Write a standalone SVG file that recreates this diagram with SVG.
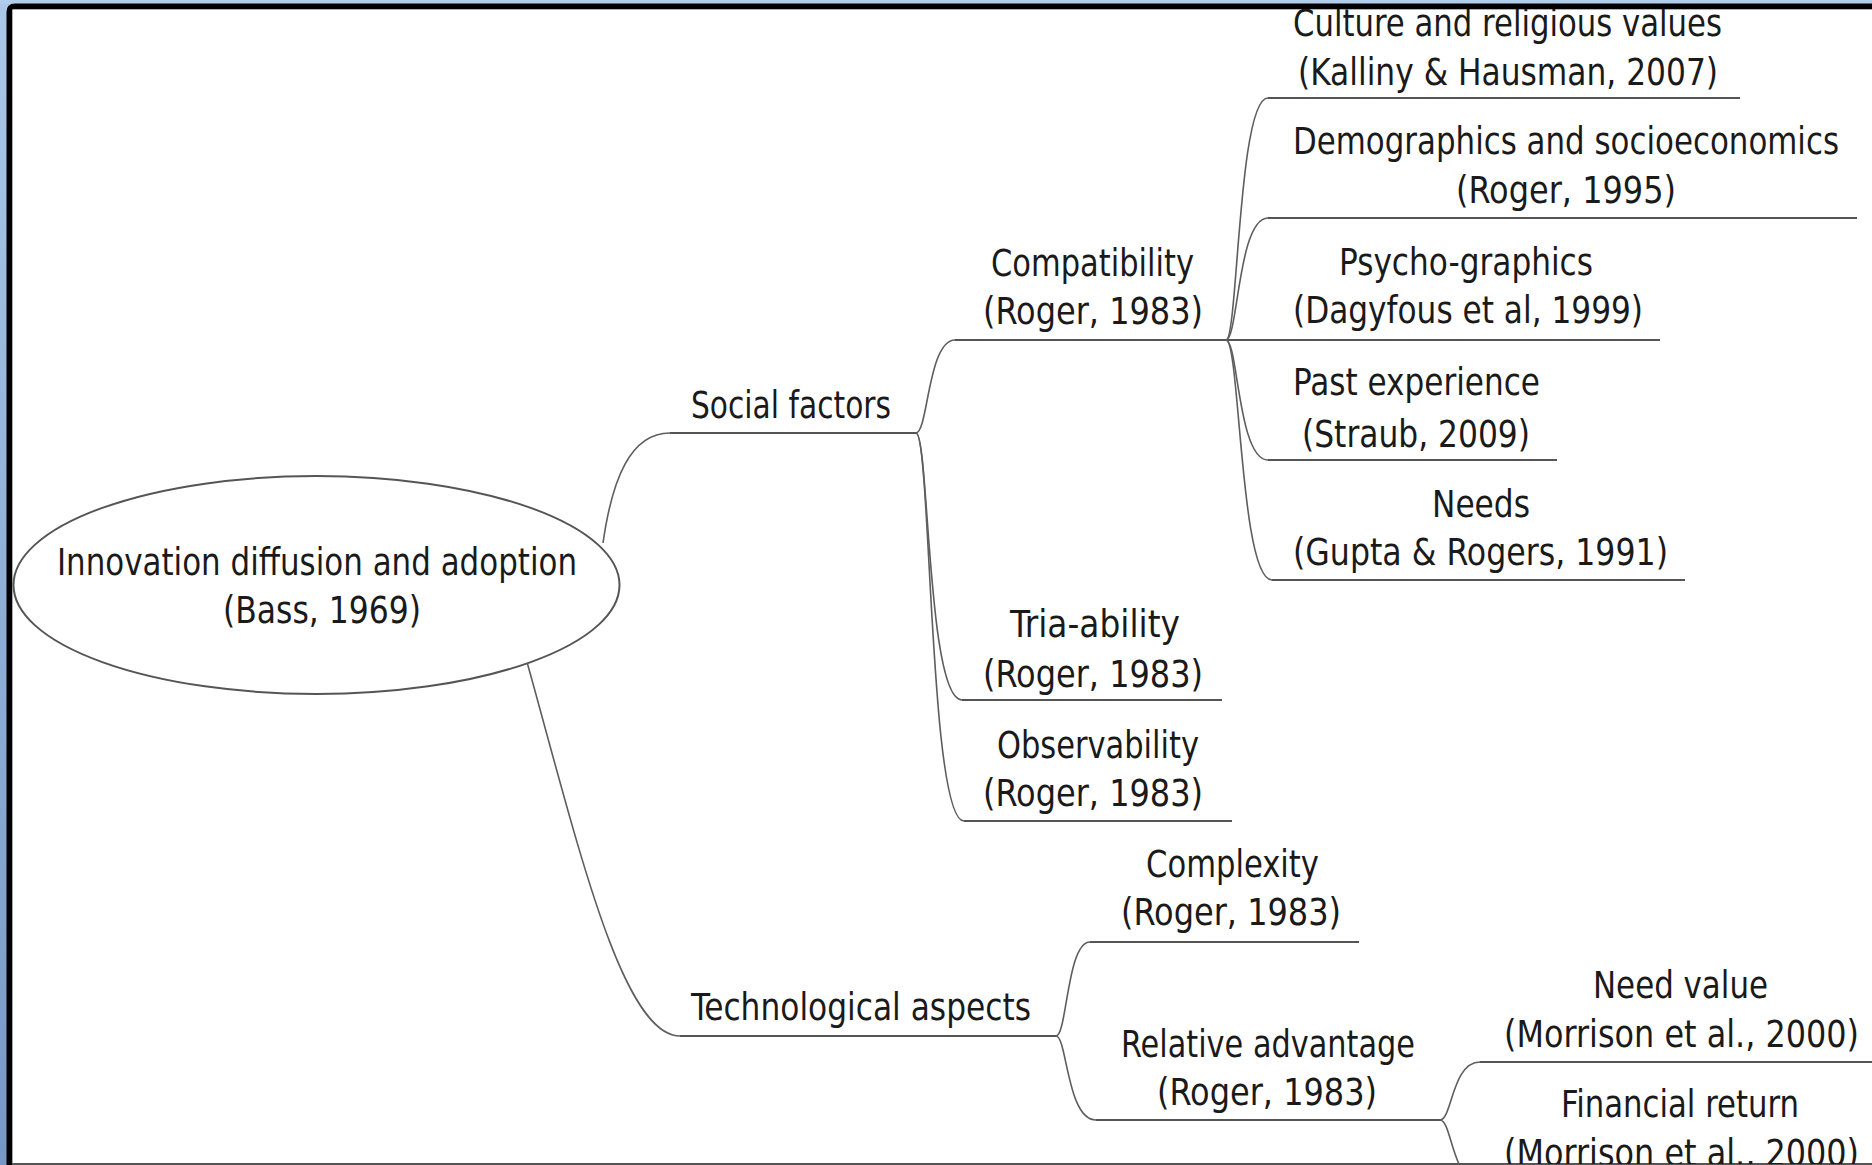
<svg xmlns="http://www.w3.org/2000/svg" width="1872" height="1165" viewBox="0 0 1872 1165">
<defs>
<linearGradient id="bgL" x1="0" y1="0" x2="0" y2="1">
<stop offset="0" stop-color="#abc8e9"/>
<stop offset="1" stop-color="#7898c4"/>
</linearGradient>
<clipPath id="inner"><rect x="12" y="9" width="1860" height="1155"/></clipPath>
<style>
text{font-family:"DejaVu Sans Condensed","DejaVu Sans","Liberation Sans",sans-serif;font-stretch:condensed;font-size:36.5px;fill:#1a1a1a}
.u{stroke:#555;stroke-width:2;fill:none}
.c{stroke:#5e5e5e;stroke-width:1.6;fill:none}
</style>
</defs>
<rect x="0" y="0" width="1872" height="1165" fill="url(#bgL)"/>
<rect x="0" y="0" width="1872" height="4" fill="#b0cdec"/>
<path d="M6.5,1165 V12 Q6.5,3.5 15,3.5 H1872 V9.5 H12.5 V1165 Z" fill="#000"/>
<rect x="12.5" y="9.5" width="1860" height="1154" fill="#fff"/>
<rect x="12.5" y="1163" width="1860" height="2" fill="#555"/>
<g clip-path="url(#inner)">
<g id="connectors">
<path class="c" d="M603,543 C612,480 630,433 670,433"/>
<path class="c" d="M527,662 C578,845 622,1036 680,1036"/>
<path class="u" d="M670,433 H916"/>
<path class="c" d="M916,433 C928,433 928,340 955,340"/>
<path class="c" d="M916,433 C929,433 927,700 962,700"/>
<path class="c" d="M916,433 C931,433 929,821 964,821"/>
<path class="u" d="M955,340 H1660"/>
<path class="c" d="M1226,340 C1238,340 1238,98 1268,98"/>
<path class="c" d="M1226,340 C1238,340 1238,218 1268,218"/>
<path class="c" d="M1226,340 C1238,340 1238,460 1268,460"/>
<path class="c" d="M1226,340 C1240,340 1240,580 1272,580"/>
<path class="u" d="M1268,98 H1740"/>
<path class="u" d="M1268,218 H1857"/>
<path class="u" d="M1268,460 H1557"/>
<path class="u" d="M1272,580 H1685"/>
<path class="u" d="M962,700 H1222"/>
<path class="u" d="M964,821 H1232"/>
<path class="u" d="M680,1036 H1056"/>
<path class="c" d="M1056,1036 C1067,1036 1067,942 1090,942"/>
<path class="c" d="M1056,1036 C1067,1036 1067,1120 1096,1120"/>
<path class="u" d="M1090,942 H1359"/>
<path class="u" d="M1096,1120 H1440"/>
<path class="c" d="M1440,1120 C1452,1120 1452,1062 1480,1062"/>
<path class="c" d="M1440,1120 C1452,1120 1452,1182 1480,1182"/>
<path class="u" d="M1480,1062 H1872"/>
<path class="u" d="M1480,1182 H1872"/>
</g>
<g id="root">
<ellipse cx="316.5" cy="585" rx="303" ry="109" fill="#fff" stroke="#555" stroke-width="2"/>
<text x="57" y="575" textLength="520" lengthAdjust="spacingAndGlyphs">Innovation diffusion and adoption</text>
<text x="223" y="623" textLength="198" lengthAdjust="spacingAndGlyphs">(Bass, 1969)</text>
</g>
<g id="social">
<text x="691" y="418" textLength="200" lengthAdjust="spacingAndGlyphs">Social factors</text>
</g>
<g id="compatibility">
<text x="991" y="276" textLength="203" lengthAdjust="spacingAndGlyphs">Compatibility</text>
<text x="983" y="324" textLength="220" lengthAdjust="spacingAndGlyphs">(Roger, 1983)</text>
</g>
<g id="culture">
<text x="1293" y="36" textLength="429" lengthAdjust="spacingAndGlyphs">Culture and religious values</text>
<text x="1298" y="85" textLength="420" lengthAdjust="spacingAndGlyphs">(Kalliny &amp; Hausman, 2007)</text>
</g>
<g id="demographics">
<text x="1293" y="154" textLength="546" lengthAdjust="spacingAndGlyphs">Demographics and socioeconomics</text>
<text x="1456" y="203" textLength="220" lengthAdjust="spacingAndGlyphs">(Roger, 1995)</text>
</g>
<g id="psychographics">
<text x="1339" y="275" textLength="254" lengthAdjust="spacingAndGlyphs">Psycho-graphics</text>
<text x="1293" y="323" textLength="350" lengthAdjust="spacingAndGlyphs">(Dagyfous et al, 1999)</text>
</g>
<g id="past-experience">
<text x="1293" y="395" textLength="247" lengthAdjust="spacingAndGlyphs">Past experience</text>
<text x="1302" y="447" textLength="228" lengthAdjust="spacingAndGlyphs">(Straub, 2009)</text>
</g>
<g id="needs">
<text x="1432" y="517" textLength="98" lengthAdjust="spacingAndGlyphs">Needs</text>
<text x="1293" y="565" textLength="375" lengthAdjust="spacingAndGlyphs">(Gupta &amp; Rogers, 1991)</text>
</g>
<g id="triaability">
<text x="1010" y="637" textLength="170" lengthAdjust="spacingAndGlyphs">Tria-ability</text>
<text x="983" y="687" textLength="220" lengthAdjust="spacingAndGlyphs">(Roger, 1983)</text>
</g>
<g id="observability">
<text x="997" y="758" textLength="202" lengthAdjust="spacingAndGlyphs">Observability</text>
<text x="983" y="806" textLength="220" lengthAdjust="spacingAndGlyphs">(Roger, 1983)</text>
</g>
<g id="complexity">
<text x="1146" y="877" textLength="173" lengthAdjust="spacingAndGlyphs">Complexity</text>
<text x="1121" y="925" textLength="220" lengthAdjust="spacingAndGlyphs">(Roger, 1983)</text>
</g>
<g id="technological">
<text x="691" y="1020" textLength="340" lengthAdjust="spacingAndGlyphs">Technological aspects</text>
</g>
<g id="relative-advantage">
<text x="1121" y="1057" textLength="294" lengthAdjust="spacingAndGlyphs">Relative advantage</text>
<text x="1157" y="1105" textLength="220" lengthAdjust="spacingAndGlyphs">(Roger, 1983)</text>
</g>
<g id="need-value">
<text x="1593" y="998" textLength="175" lengthAdjust="spacingAndGlyphs">Need value</text>
<text x="1504" y="1047" textLength="355" lengthAdjust="spacingAndGlyphs">(Morrison et al., 2000)</text>
</g>
<g id="financial-return">
<text x="1561" y="1117" textLength="238" lengthAdjust="spacingAndGlyphs">Financial return</text>
<text x="1504" y="1166" textLength="355" lengthAdjust="spacingAndGlyphs">(Morrison et al., 2000)</text>
</g>
</g>
</svg>
